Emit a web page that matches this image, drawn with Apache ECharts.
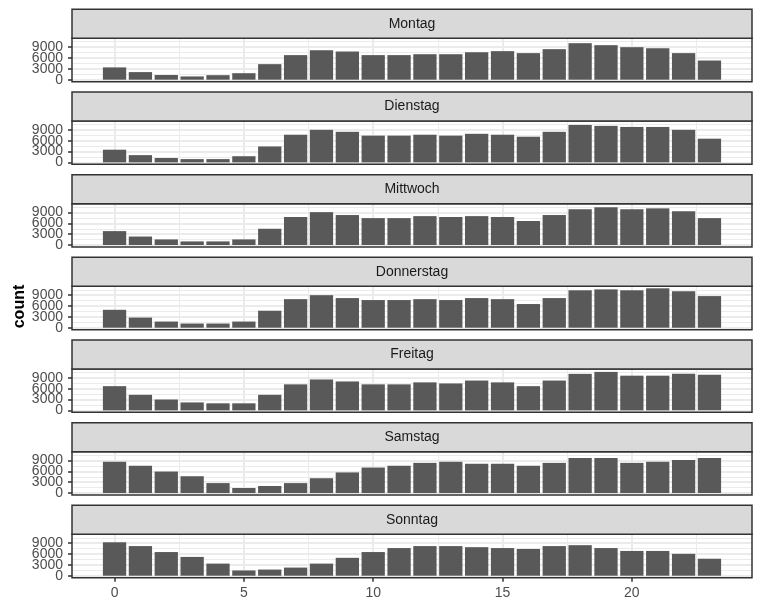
<!DOCTYPE html>
<html>
<head>
<meta charset="utf-8">
<script src="https://cdn.jsdelivr.net/npm/echarts@6/dist/echarts.min.js"></script>
<style>
  html, body { margin: 0; padding: 0; background: #ffffff; }
  #chart { width: 762px; height: 611px; }
</style>
</head>
<body>
<div id="chart"></div>
<script>
// Hour of day (x) and weekday facets
const hours = [0, 1, 2, 3, 4, 5, 6, 7, 8, 9, 10, 11, 12, 13, 14, 15, 16, 17, 18, 19, 20, 21, 22, 23];
const days = ['Montag', 'Dienstag', 'Mittwoch', 'Donnerstag', 'Freitag', 'Samstag', 'Sonntag'];

// Number of records per hour, one list per weekday
const montag     = [3400, 2100, 1300,  900, 1250, 1800, 4300, 6800, 8150, 7800, 6800, 6800, 7050, 7050, 7600, 7900, 7350, 8450, 10100, 9550, 9000, 8700, 7350, 5300];
const dienstag   = [3500, 2000, 1200,  900,  900, 1700, 4400, 7650, 9000, 8450, 7400, 7400, 7650, 7400, 7900, 7650, 7100, 8450, 10350, 10100, 9800, 9800, 9000, 6550];
const mittwoch   = [3850, 2350, 1550, 1000, 1000, 1550, 4500, 7750, 9100, 8300, 7450, 7450, 8000, 7750, 8000, 7750, 6650, 8300, 9900, 10450, 9900, 10150, 9350, 7450];
const donnerstag = [4950, 2800, 1700, 1150, 1150, 1700, 4700, 7900, 9000, 8200, 7650, 7650, 7900, 7650, 8200, 7900, 6550, 8200, 10350, 10600, 10350, 10900, 10100, 8750];
const freitag    = [6700, 4300, 3000, 2200, 1950, 1950, 4300, 7200, 8550, 8000, 7200, 7200, 7750, 7450, 8250, 7750, 6700, 8250, 10100, 10650, 9600, 9600, 10100, 9850];
const samstag    = [8650, 7550, 5950, 4650, 2750, 1400, 1950, 2750, 4100, 5700, 7050, 7550, 8350, 8650, 8100, 8100, 7550, 8350, 9700, 9700, 8350, 8650, 9150, 9700];
const sonntag    = [9250, 8200, 6550, 5200, 3350, 1450, 1700, 2250, 3350, 4950, 6550, 7650, 8200, 8200, 7900, 7650, 7400, 8200, 8450, 7650, 6850, 6850, 6050, 4700];

// Axis breaks
const xStep = 5;
const yStep = 3000;
const xMinorBreaks = [0, 2.5, 5, 7.5, 10, 12.5, 15, 17.5, 20, 22.5];
const yMinorBreaks = [0, 1500, 3000, 4500, 6000, 7500, 9000, 10500];

const counts = [montag, dienstag, mittwoch, donnerstag, freitag, samstag, sonntag];

// Layout of the facet grid
const FONT = '"Liberation Sans", Arial, sans-serif';
const plotLeft = 72;
const plotWidth = 680;
const firstStripTop = 9.33;
const stripH = 29;
const panelH = 43.33;
const pitch = 82.67;
const INK = '#333333';

// Shared scales with 5% padding on each side
const maxCount = Math.max(...counts.flat());
const yMin = -0.05 * maxCount;
const yMax = 1.05 * maxCount;
const barW = 0.9;
const xLo = hours[0] - barW / 2;
const xHi = hours[hours.length - 1] + barW / 2;
const xPad = 0.05 * (xHi - xLo);
const xMin = xLo - xPad;
const xMax = xHi + xPad;
const barPx = barW * plotWidth / (xMax - xMin);

// light panel grid: thicker at labelled breaks, thinner halfway between
const isMajor = (v, step) => Math.abs(v / step - Math.round(v / step)) < 1e-9;
const gridLineData = [].concat(
  xMinorBreaks.map(v => ({ xAxis: v, lineStyle: { width: isMajor(v, xStep) ? 2 : 1 } })),
  yMinorBreaks.map(v => ({ yAxis: v, lineStyle: { width: isMajor(v, yStep) ? 2 : 1 } }))
);

// only labels at whole breaks (hides the padded ends of the range)
const breakLabel = step => v => (isMajor(v, step) ? String(Math.round(v)) : '');

const grid = [], xAxis = [], yAxis = [], series = [], graphic = [];

days.forEach((day, i) => {
  const stripTop = firstStripTop + i * pitch;
  const panelTop = stripTop + stripH;
  const last = i === days.length - 1;

  // panel frame, drawn above the grid lines
  grid.push({
    left: plotLeft, width: plotWidth, top: panelTop, height: panelH, z: 3,
    show: true, borderColor: INK, borderWidth: 1.5, backgroundColor: 'transparent'
  });

  xAxis.push({
    type: 'value', gridIndex: i, min: xMin, max: xMax, position: 'bottom', z: 3,
    minInterval: xStep, maxInterval: xStep,
    axisLine: { show: false, onZero: false },
    splitLine: { show: false },
    axisTick: { show: last, length: 4, lineStyle: { color: INK, width: 1.5 } },
    axisLabel: {
      show: last, showMinLabel: false, showMaxLabel: false, formatter: breakLabel(xStep),
      color: '#4d4d4d', fontSize: 14, fontFamily: FONT, margin: 8
    }
  });

  yAxis.push({
    type: 'value', gridIndex: i, min: yMin, max: yMax, position: 'left', z: 3,
    minInterval: yStep, maxInterval: yStep,
    axisLine: { show: false, onZero: false },
    splitLine: { show: false },
    axisTick: { show: true, length: 4, lineStyle: { color: INK, width: 1.5 } },
    axisLabel: {
      show: true, showMinLabel: false, showMaxLabel: false, hideOverlap: false,
      formatter: breakLabel(yStep),
      color: '#4d4d4d', fontSize: 14, fontFamily: FONT, margin: 9, lineHeight: 8
    }
  });

  // panel grid lines
  series.push({
    type: 'line', xAxisIndex: i, yAxisIndex: i, data: [], z: 1, silent: true,
    markLine: {
      silent: true, symbol: ['none', 'none'], z: 1, animation: false,
      label: { show: false },
      lineStyle: { type: 'solid', color: '#ebebeb' },
      emphasis: { disabled: true },
      data: gridLineData
    }
  });

  series.push({
    type: 'bar', name: day, xAxisIndex: i, yAxisIndex: i, z: 5,
    barWidth: barPx,
    itemStyle: { color: '#595959' },
    data: hours.map((h, k) => [h, counts[i][k]])
  });

  // facet strip
  graphic.push({
    type: 'rect', silent: true, z: 10,
    shape: { x: plotLeft, y: stripTop, width: plotWidth, height: stripH },
    style: { fill: '#d9d9d9', stroke: INK, lineWidth: 1.5 }
  });
  graphic.push({
    type: 'text', silent: true, z: 11,
    x: plotLeft + plotWidth / 2, y: stripTop + stripH / 2,
    style: { text: day, align: 'center', verticalAlign: 'middle', fill: '#1a1a1a', font: '14px ' + FONT }
  });
});

// y axis title
graphic.push({
  type: 'text', silent: true, z: 11,
  x: 20, y: 306.5, rotation: Math.PI / 2,
  style: { text: 'count', align: 'center', verticalAlign: 'middle', fill: '#000000', font: 'bold 16px ' + FONT }
});

const chart = echarts.init(document.getElementById('chart'), null, { renderer: 'canvas' });
chart.setOption({
  animation: false,
  backgroundColor: '#ffffff',
  grid, xAxis, yAxis, series, graphic
});
</script>
</body>
</html>
